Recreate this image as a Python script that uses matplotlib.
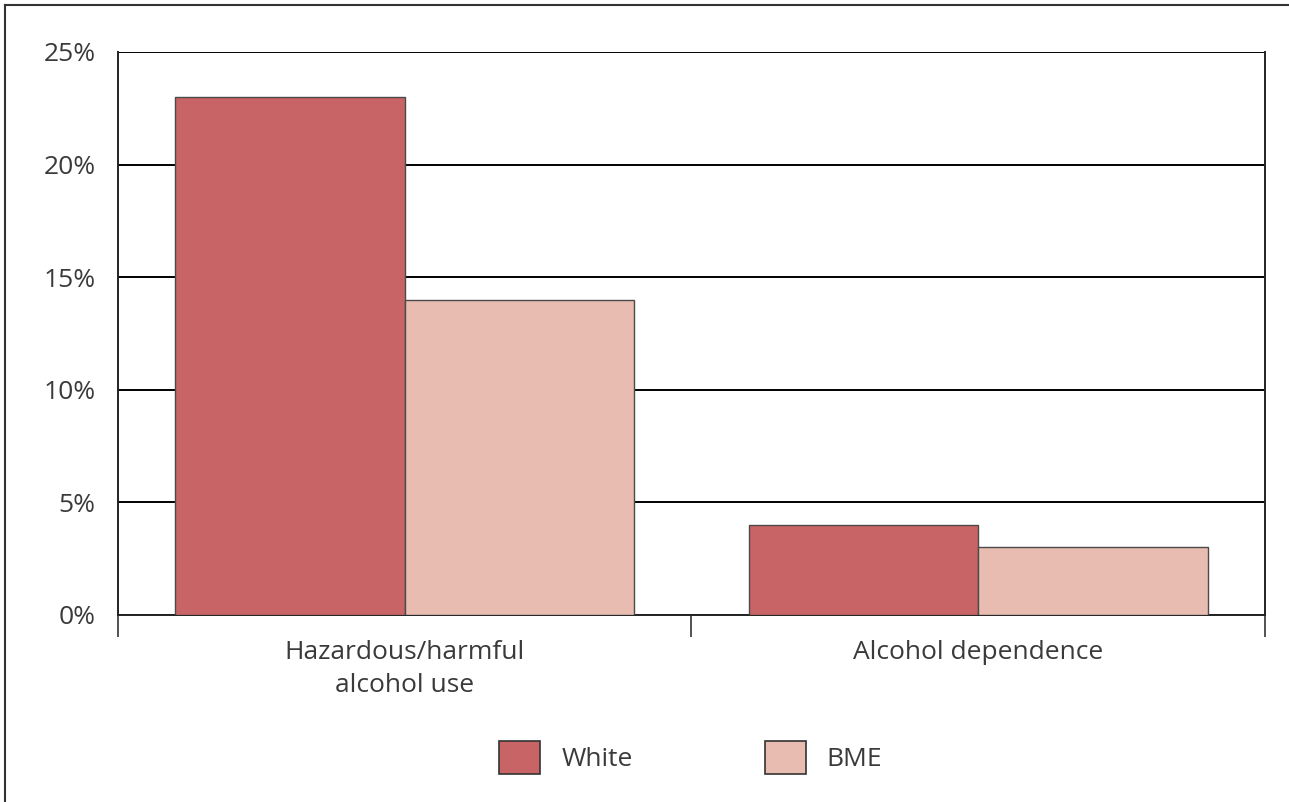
import numpy as np
import matplotlib.pyplot as plt
from matplotlib.patches import Patch
from matplotlib.lines import Line2D

plt.rcParams['font.family'] = ['Open Sans', 'DejaVu Sans']

# data
categories = ['Hazardous/harmful\nalcohol use', 'Alcohol dependence']
series = ['White', 'BME']
white = [23, 4]
bme = [14, 3]
yticks = [0, 5, 10, 15, 20, 25]
ytick_labels = ['0%', '5%', '10%', '15%', '20%', '25%']

colors = {'White': '#C96466', 'BME': '#E9BCB1'}
text_col = '#3a3a3a'
fs = 19

fig = plt.figure(figsize=(12.89, 8.02), dpi=100)
ax = fig.add_axes([0.0915, 0.2332, 0.8899, 0.702])

x = np.arange(len(categories))
w = 0.4
ax.bar(x - w / 2, white, w, color=colors['White'], edgecolor='#4a4a4a', linewidth=1.0, zorder=3)
ax.bar(x + w / 2, bme, w, color=colors['BME'], edgecolor='#4a4a4a', linewidth=1.0, zorder=3)

ax.set_xlim(-0.5, 1.5)
ax.set_ylim(0, 25)
ax.set_yticks(yticks)
ax.set_yticklabels(ytick_labels, fontsize=fs, color=text_col)
ax.yaxis.grid(True, color='black', linewidth=1.4, zorder=1)
ax.set_axisbelow(True)

ax.set_xticks(x)
ax.set_xticklabels(categories, fontsize=fs, color=text_col, linespacing=1.4)
ax.set_xticks([-0.5, 0.5, 1.5], minor=True)
ax.tick_params(axis='x', which='major', length=0, pad=18)
ax.tick_params(axis='x', which='minor', length=16, width=1.2, color='#333333', direction='out')
ax.tick_params(axis='y', length=0, pad=16)

for s in ['left', 'right', 'bottom']:
    ax.spines[s].set_color('#222222')
    ax.spines[s].set_linewidth(1.4)
ax.spines['top'].set_visible(False)

handles = [Patch(facecolor=colors[s], edgecolor='#333333', linewidth=1.2) for s in series]
leg = fig.legend(handles, series, loc='center', bbox_to_anchor=(0.536, 0.056), ncol=2,
                 frameon=False, fontsize=fs, handlelength=1.55, handleheight=1.55,
                 handletextpad=0.8, columnspacing=5.0)
for t in leg.get_texts():
    t.set_color(text_col)

# page frame lines (left and top)
fig.add_artist(Line2D([0.004, 0.004], [0, 0.994], transform=fig.transFigure, color='#333333', linewidth=1.5))
fig.add_artist(Line2D([0.004, 1.0], [0.994, 0.994], transform=fig.transFigure, color='#333333', linewidth=1.5))

fig.savefig('out.png', dpi=100)
